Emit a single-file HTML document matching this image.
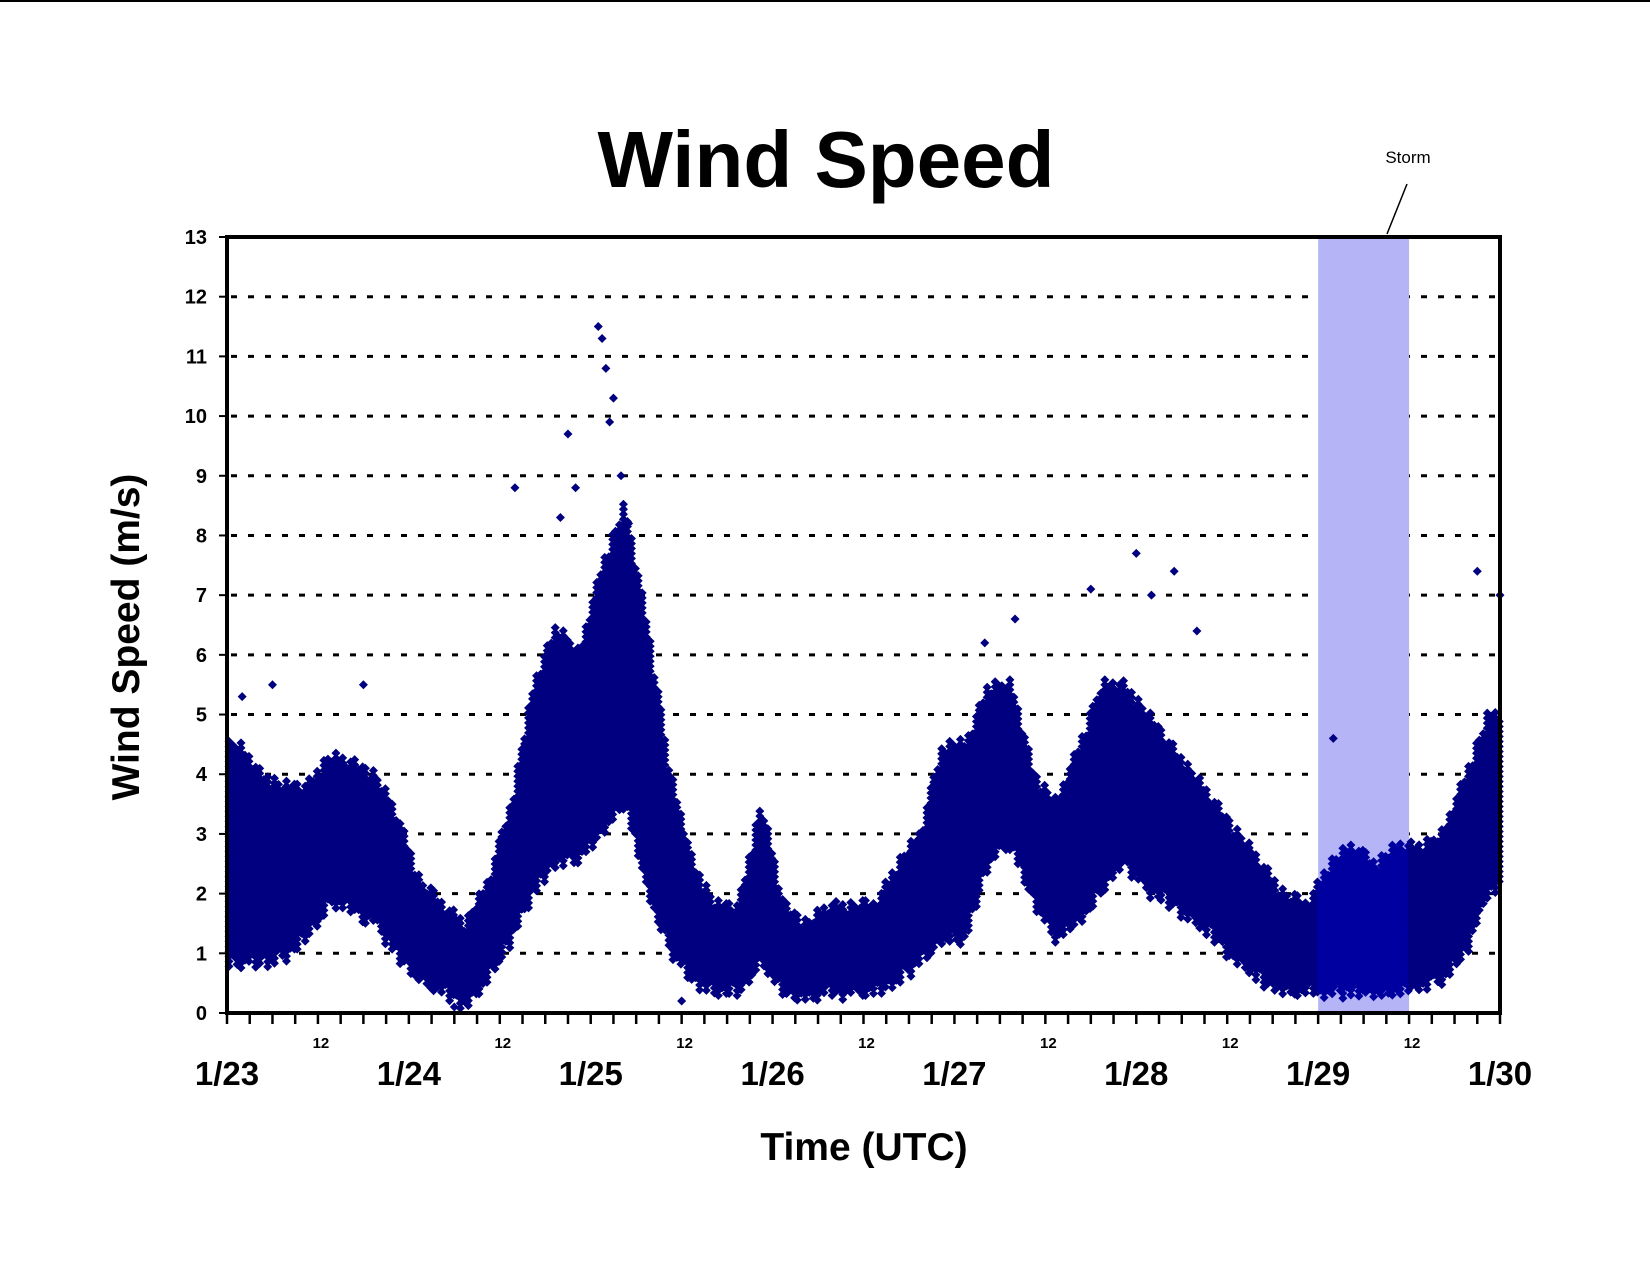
<!DOCTYPE html>
<html><head><meta charset="utf-8"><style>
html,body{margin:0;padding:0;background:#fff;}
svg{display:block;font-family:"Liberation Sans",Arial,sans-serif;}
</style></head><body>
<svg id="chart" width="1650" height="1275" viewBox="0 0 1650 1275" xmlns="http://www.w3.org/2000/svg">
<line x1="0" y1="1" x2="1650" y2="1" stroke="#000" stroke-width="2"/>
<text x="826" y="187" text-anchor="middle" font-size="80" font-weight="bold">Wind Speed</text>
<g id="grid"></g>
<rect id="storm" fill="#b4b4f7"/>
<g id="pts"></g>
<rect x="227" y="237" width="1273" height="776" fill="none" stroke="#000" stroke-width="4"/>
<g id="axes"></g>
<text x="1408" y="163" text-anchor="middle" font-size="17">Storm</text>
<line x1="1407" y1="184" x2="1387" y2="234" stroke="#000" stroke-width="1.5"/>
<text x="864" y="1160" text-anchor="middle" font-size="39" font-weight="bold">Time (UTC)</text>
<text transform="translate(139,637) rotate(-90)" text-anchor="middle" font-size="39" font-weight="bold">Wind Speed (m/s)</text>
</svg>
<script>
// data: 3-hour bins starting 1/23 00 UTC (hours since start), dense envelope lo/hi in m/s
const binHours = [0,3,6,9,12,15,18,21,24,27,30,33,36,39,42,45,48,51,54,57,60,63,66,69,72,75,78,81,84,87,90,93,96,99,102,105,108,111,114,117,120,123,126,129,132,135,138,141,144,147,150,153,156,159,162,165];
const binLo = [0.8,0.8,0.9,1.2,1.8,1.7,1.5,0.9,0.5,0.3,0.1,0.5,1.2,2.0,2.5,2.5,3.0,3.5,2.0,1.0,0.5,0.3,0.3,0.8,0.3,0.2,0.3,0.3,0.3,0.5,0.8,1.2,1.2,2.5,2.8,1.8,1.2,1.5,2.0,2.5,2.0,1.8,1.5,1.2,0.8,0.5,0.3,0.3,0.3,0.3,0.3,0.3,0.4,0.5,1.0,2.0];
const binHi = [4.5,4.0,3.8,3.8,4.3,4.2,4.0,3.3,2.2,1.8,1.5,2.2,3.5,5.5,6.5,6.0,7.5,8.5,6.5,4.0,2.5,1.8,1.8,3.5,1.8,1.5,1.8,1.8,1.8,2.5,3.0,4.5,4.5,5.5,5.5,4.0,3.5,4.5,5.5,5.5,5.0,4.5,4.0,3.5,3.0,2.5,2.0,1.8,2.5,2.8,2.5,2.8,2.8,3.0,4.0,5.0];
// outlier points: hours since start, m/s
const outHours = [49,49.5,50,51,50.5,45,46,38,44,52,53,120,122,125,114,165,168,104,6,18,146,2,30,60,100,128];
const outVals = [11.5,11.3,10.8,10.3,9.9,9.7,8.8,8.8,8.3,9.0,8.2,7.7,7.0,7.4,7.1,7.4,7.0,6.6,5.5,5.5,4.6,5.3,0.1,0.2,6.2,6.4];
const yTicks = [0,1,2,3,4,5,6,7,8,9,10,11,12,13];
const dayLabels = ["1/23","1/24","1/25","1/26","1/27","1/28","1/29","1/30"];
const stormStart = 144, stormEnd = 156;

const X0=227,X1=1500,Y0=1013,Y1=237,H=168;
const xs = h => X0 + (X1-X0)*h/H;
const ys = v => Y0 - (Y0-Y1)*v/13;
const NS="http://www.w3.org/2000/svg";
function mk(t,a){const e=document.createElementNS(NS,t);for(const k in a)e.setAttribute(k,a[k]);return e;}

const grid=document.getElementById('grid');
yTicks.forEach(v=>{ if(v>0&&v<13){const l=mk('line',{x1:X0+4,x2:X1-4,y1:ys(v),y2:ys(v),stroke:'#000','stroke-width':3,'stroke-dasharray':'6 11'});

grid.appendChild(l);}});

const st=document.getElementById('storm');
st.setAttribute('x',xs(stormStart));st.setAttribute('y',Y1);st.setAttribute('width',xs(stormEnd)-xs(stormStart));st.setAttribute('height',Y0-Y1);

const pts=document.getElementById('pts');
function diamond(x,y){return `M${x} ${y-4.5}L${x+4.5} ${y}L${x} ${y+4.5}L${x-4.5} ${y}Z`;}
// envelope at hour h: blend between bin centres
function env(arr,h){
  const c=h-1.5; let i=Math.floor(c/3); const f=(c-i*3)/3;
  const a=arr[Math.max(0,Math.min(arr.length-1,i))], b=arr[Math.max(0,Math.min(arr.length-1,i+1))];
  return a+(b-a)*f;
}
const edgePat=[0,7,3,12,5,1,9,4,14,2,6,10];
binHours.forEach((h,i)=>{
  const g=mk('path',{});
  let d='';
  const xa=xs(h), xb=xs(Math.min(h+3,H));
  for(let x=xa+2,c=0;x<=xb;x+=4,c++){
    const hh=(x-X0)/(X1-X0)*H;
    const lo=env(binLo,hh), hi=env(binHi,hh);
    const k=Math.round(x/4);
    const top=ys(hi)+edgePat[k%12]-5, bot=ys(lo)-edgePat[(k+5)%12]+5;
    for(let y=Math.max(Y1+5,top);y<=Math.min(Y0-3,bot);y+=5){d+=diamond(x,y);}
  }
  g.setAttribute('d',d);
  g.setAttribute('fill',(h>=stormStart&&h<stormEnd)?'#0000a0':'#000080');
  
  
  pts.appendChild(g);
});
outHours.forEach((h,i)=>{
  const p=mk('path',{d:diamond(xs(h),ys(outVals[i])),fill:'#000080'});
  
  
  pts.appendChild(p);
});

const ax=document.getElementById('axes');
yTicks.forEach(v=>{
  const t=mk('text',{x:207,y:ys(v)+7,'text-anchor':'end','font-size':20,'font-weight':'bold'});t.textContent=v;
  
  ax.appendChild(t);
  const tk=mk('line',{x1:219,x2:227,y1:ys(v),y2:ys(v),stroke:'#000','stroke-width':2});
  
  ax.appendChild(tk);
});
for(let h=0;h<=H;h+=3){
  const tk=mk('line',{x1:xs(h),x2:xs(h),y1:Y0,y2:Y0+11,stroke:'#000','stroke-width':2.5});
  
  ax.appendChild(tk);
  if(h%24===12){const t=mk('text',{x:xs(h)+3,y:1048,'text-anchor':'middle','font-size':15,'font-weight':'bold'});t.textContent='12';
  
  ax.appendChild(t);}
}
dayLabels.forEach((s,i)=>{
  const t=mk('text',{x:xs(i*24),y:1085,'text-anchor':'middle','font-size':33,'font-weight':'bold'});t.textContent=s;
  
  ax.appendChild(t);
});
</script>
</body></html>
